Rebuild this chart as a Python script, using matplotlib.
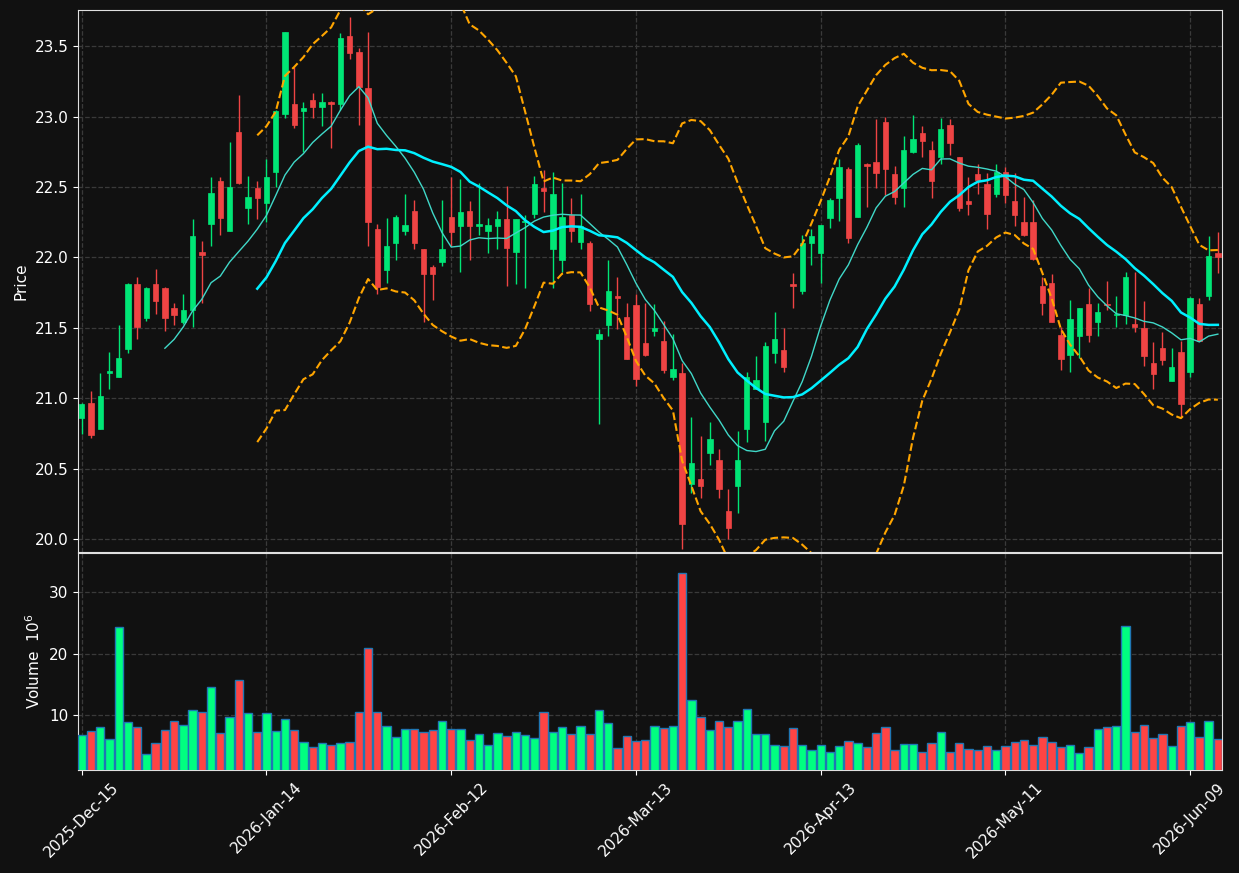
import numpy as np
import pandas as pd
import matplotlib
matplotlib.use('Agg')
import matplotlib.pyplot as plt

# daily OHLC (price) and volume (millions)
opens = [20.86, 20.97, 20.78, 21.18, 21.15, 21.35, 21.81, 21.57, 21.81, 21.78,
         21.64, 21.54, 21.63, 22.04, 22.24, 22.54, 22.19, 22.89, 22.35, 22.49,
         22.39, 22.61, 23.02, 23.09, 23.04, 23.12, 23.07, 23.10, 23.09, 23.57,
         23.46, 23.20, 22.20, 21.91, 22.10, 22.19, 22.33, 22.06, 21.93, 21.97,
         22.29, 22.22, 22.33, 22.22, 22.19, 22.22, 22.27, 22.04, 22.25, 22.31,
         22.49, 22.06, 21.98, 22.30, 22.11, 22.10, 21.42, 21.52, 21.73, 21.58,
         21.66, 21.39, 21.48, 21.41, 21.15, 21.18, 20.39, 20.43, 20.61, 20.56,
         20.20, 20.38, 20.78, 21.07, 20.83, 21.32, 21.34, 21.81, 21.76, 22.10,
         22.03, 22.28, 22.42, 22.63, 22.29, 22.66, 22.68, 22.96, 22.59, 22.49,
         22.75, 22.88, 22.76, 22.71, 22.94, 22.71, 22.40, 22.59, 22.52, 22.45,
         22.61, 22.40, 22.25, 22.25, 21.80, 21.82, 21.45, 21.31, 21.44, 21.67,
         21.54, 21.67, 21.59, 21.59, 21.53, 21.50, 21.25, 21.36, 21.12, 21.33,
         21.19, 21.67, 21.73, 22.03]
highs = [20.97, 21.05, 21.18, 21.33, 21.52, 21.82, 21.86, 21.79, 21.92, 21.79,
         21.68, 21.74, 22.27, 22.12, 22.57, 22.57, 22.82, 23.15, 22.58, 22.54,
         22.70, 23.05, 23.60, 23.35, 23.10, 23.17, 23.17, 23.11, 23.59, 23.71,
         23.49, 23.60, 22.24, 22.28, 22.30, 22.45, 22.41, 22.06, 21.95, 22.41,
         22.57, 22.56, 22.40, 22.53, 22.28, 22.33, 22.51, 22.27, 22.30, 22.58,
         22.62, 22.61, 22.53, 22.42, 22.45, 22.12, 21.49, 21.98, 21.86, 21.68,
         21.74, 21.68, 21.67, 21.55, 21.46, 21.25, 20.87, 20.73, 20.83, 20.64,
         20.36, 20.77, 21.19, 21.30, 21.40, 21.61, 21.50, 21.89, 22.16, 22.20,
         22.23, 22.42, 22.70, 22.64, 22.81, 22.67, 22.98, 23.00, 22.65, 22.86,
         23.01, 22.93, 22.83, 22.99, 22.98, 22.71, 22.57, 22.66, 22.60, 22.66,
         22.64, 22.60, 22.43, 22.41, 21.86, 21.88, 21.51, 21.70, 21.64, 21.78,
         21.68, 21.83, 21.73, 21.90, 21.90, 21.69, 21.40, 21.47, 21.36, 21.41,
         21.72, 21.71, 22.15, 22.18]
lows = [20.75, 20.72, 20.78, 21.07, 21.15, 21.32, 21.42, 21.55, 21.60, 21.48,
        21.52, 21.53, 21.51, 21.68, 22.08, 22.16, 22.19, 22.52, 22.24, 22.27,
        22.25, 22.50, 22.99, 22.92, 22.75, 22.99, 22.93, 22.78, 23.05, 23.41,
        22.94, 22.08, 21.74, 21.82, 21.98, 22.16, 22.06, 21.54, 21.70, 21.94,
        22.08, 21.90, 21.98, 22.16, 22.03, 22.06, 21.80, 21.81, 21.78, 22.28,
        22.32, 21.78, 21.90, 22.11, 22.06, 21.62, 20.82, 21.44, 21.49, 21.28,
        21.09, 21.30, 21.44, 21.18, 21.13, 19.93, 20.33, 20.29, 20.53, 20.29,
        20.00, 20.19, 20.69, 21.07, 20.70, 21.25, 21.19, 21.64, 21.74, 21.95,
        21.82, 22.21, 22.26, 22.10, 22.29, 22.36, 22.49, 22.44, 22.38, 22.36,
        22.74, 22.71, 22.42, 22.66, 22.73, 22.33, 22.30, 22.45, 22.20, 22.43,
        22.39, 22.22, 22.15, 21.98, 21.59, 21.54, 21.20, 21.19, 21.29, 21.40,
        21.44, 21.63, 21.51, 21.53, 21.47, 21.23, 21.07, 21.24, 21.12, 20.87,
        21.15, 21.41, 21.70, 21.89]
closes = [20.96, 20.74, 21.02, 21.19, 21.29, 21.81, 21.51, 21.78, 21.69, 21.57,
          21.59, 21.63, 22.15, 22.02, 22.46, 22.28, 22.50, 22.53, 22.43, 22.42,
          22.57, 23.04, 23.60, 22.94, 23.06, 23.07, 23.10, 23.09, 23.56, 23.45,
          23.21, 22.25, 21.79, 22.08, 22.29, 22.23, 22.10, 21.88, 21.88, 22.06,
          22.18, 22.32, 22.22, 22.24, 22.23, 22.27, 22.07, 22.27, 22.26, 22.52,
          22.47, 22.45, 22.29, 22.19, 22.22, 21.67, 21.46, 21.76, 21.71, 21.28,
          21.14, 21.31, 21.50, 21.20, 21.21, 20.11, 20.54, 20.38, 20.71, 20.36,
          20.08, 20.56, 21.15, 21.13, 21.37, 21.42, 21.22, 21.80, 22.10, 22.15,
          22.23, 22.41, 22.64, 22.14, 22.80, 22.65, 22.60, 22.63, 22.43, 22.76,
          22.84, 22.83, 22.54, 22.91, 22.81, 22.35, 22.38, 22.55, 22.31, 22.61,
          22.44, 22.30, 22.16, 21.99, 21.68, 21.54, 21.28, 21.56, 21.64, 21.45,
          21.61, 21.66, 21.60, 21.86, 21.51, 21.30, 21.17, 21.27, 21.22, 20.96,
          21.71, 21.41, 22.01, 22.00]
volumes = [6.69, 7.34, 8.10, 6.04, 24.25, 8.81, 7.99, 3.60, 5.39, 7.51,
           8.97, 8.32, 10.76, 10.43, 14.50, 7.07, 9.62, 15.64, 10.27, 7.18,
           10.27, 7.34, 9.30, 7.51, 5.56, 4.74, 5.39, 5.07, 5.39, 5.56,
           10.43, 20.84, 10.43, 8.16, 6.37, 7.78, 7.78, 7.18, 7.51, 8.97,
           7.78, 7.67, 5.88, 6.86, 5.07, 7.02, 6.53, 7.18, 6.69, 6.21,
           10.43, 7.18, 7.99, 6.86, 8.16, 6.86, 10.76, 8.64, 4.58, 6.53,
           5.72, 5.88, 8.16, 7.83, 8.16, 33.04, 12.38, 9.62, 7.51, 8.97,
           7.99, 8.97, 10.92, 6.86, 6.86, 5.07, 4.91, 7.83, 5.07, 4.25,
           5.07, 3.93, 4.91, 5.72, 5.39, 4.74, 7.02, 7.99, 4.25, 5.23,
           5.23, 3.93, 5.39, 7.18, 3.93, 5.39, 4.42, 4.25, 4.91, 4.25,
           4.91, 5.56, 5.88, 5.07, 6.37, 5.56, 4.74, 5.07, 3.77, 4.74,
           7.67, 7.99, 8.16, 24.42, 7.18, 8.32, 6.21, 6.86, 4.91, 8.16,
           8.81, 6.37, 8.97, 6.04]

# trading days (NYSE holidays skipped)
holidays = ['2025-12-25', '2026-01-01', '2026-01-19', '2026-02-16', '2026-04-03', '2026-05-25']
dates = pd.bdate_range('2025-12-15', periods=len(closes), freq='C', holidays=holidays)

df = pd.DataFrame({'Open': opens, 'High': highs, 'Low': lows, 'Close': closes, 'Volume': volumes},
                  index=dates)
x = np.arange(len(df))
up = df['Close'] >= df['Open']

ma10 = df['Close'].rolling(10).mean()
ma20 = df['Close'].rolling(20).mean()
sd20 = df['Close'].rolling(20).std(ddof=0)
upper = ma20 + 2 * sd20
lower = ma20 - 2 * sd20

bg = '#111111'
grid_c = '#3a3a3a'
up_c, down_c = '#00e676', '#ef4444'
vup_c, vdown_c = '#00ff80', '#ff4444'

fig = plt.figure(figsize=(12.39, 8.73), dpi=100, facecolor=bg)
ax = fig.add_axes([0.063, 0.3677, 0.9233, 0.6208])
axv = fig.add_axes([0.063, 0.118, 0.9233, 0.2486], sharex=ax)

for a in (ax, axv):
    a.set_facecolor(bg)
    for s in a.spines.values():
        s.set_color('#e0e0e0')
    a.tick_params(colors='white', labelsize=11)
    a.grid(True, color=grid_c, linestyle='--', linewidth=0.9)
    a.set_axisbelow(True)

# candles
cols = np.where(up, up_c, down_c)
ax.vlines(x, df['Low'], df['High'], colors=cols, linewidth=1.0, zorder=2)
body_lo = np.minimum(df['Open'], df['Close'])
body_h = np.maximum((df['Close'] - df['Open']).abs(), 0.012)
ax.bar(x, body_h, bottom=body_lo, width=0.58, color=cols, edgecolor=cols, linewidth=0.5, zorder=3)

# moving averages and bands
ax.plot(x, ma10, color='#40d8c8', linewidth=1.0, zorder=4)
ax.plot(x, ma20, color='#00f0ff', linewidth=1.8, zorder=4)
ax.plot(x, upper, color='#ffa500', linewidth=1.5, linestyle='--', zorder=4)
ax.plot(x, lower, color='#ffa500', linewidth=1.5, linestyle='--', zorder=4)

ax.set_ylim(19.91, 23.756)
ax.set_yticks([20.0, 20.5, 21.0, 21.5, 22.0, 22.5, 23.0, 23.5])
ax.set_yticklabels(['%.1f' % v for v in [20.0, 20.5, 21.0, 21.5, 22.0, 22.5, 23.0, 23.5]])
ax.set_ylabel('Price', color='white', fontsize=11)
ax.tick_params(axis='x', labelbottom=False, length=0)

# volume
vcols = np.where(up, vup_c, vdown_c)
axv.bar(x, df['Volume'], width=0.9, color=vcols, edgecolor='#1f77b4', linewidth=1.0, zorder=3)
axv.set_ylim(0.3 * df['Volume'].min(), 1.1 * df['Volume'].max())
axv.set_yticks([10, 20, 30])
axv.set_ylabel('Volume  $10^6$', color='white', fontsize=11)

tick_pos = x[::20]
tick_labels = [d.strftime('%Y-%b-%d') for d in dates[::20]]
axv.set_xticks(tick_pos)
axv.set_xticklabels(tick_labels, rotation=45, ha='center')
axv.set_xlim(-0.4, len(df) - 0.55)

fig.savefig('out.png', dpi=100, facecolor=bg)
